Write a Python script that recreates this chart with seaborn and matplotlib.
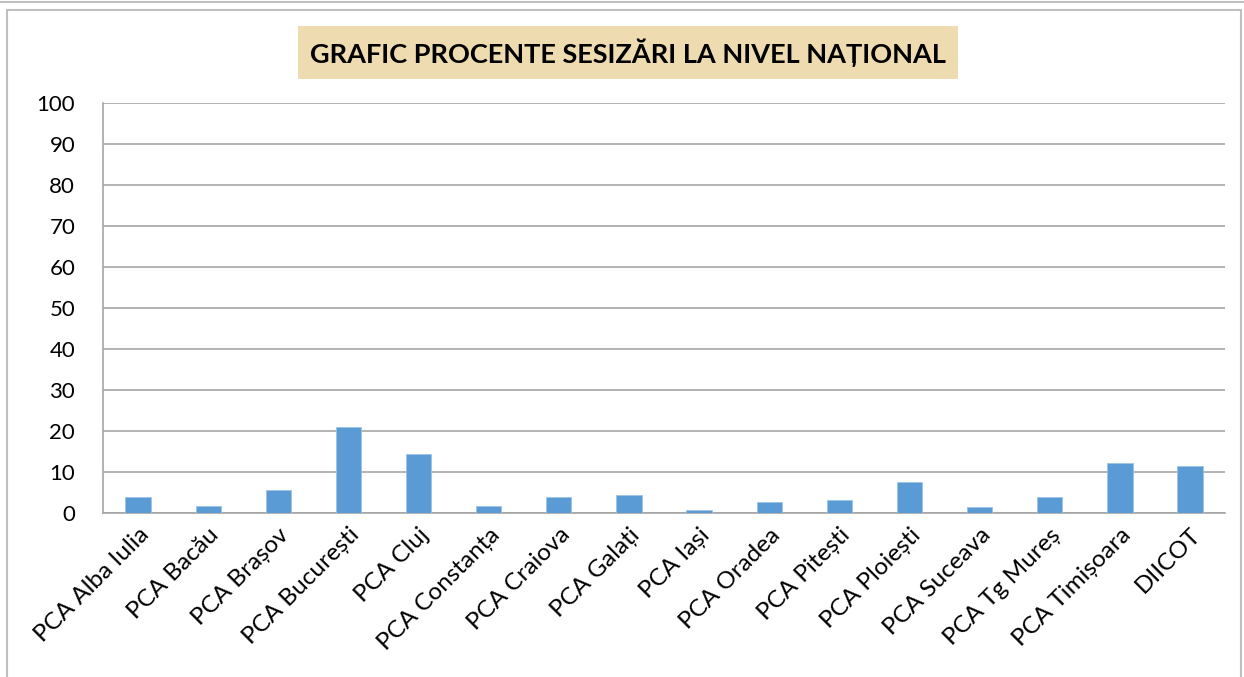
import matplotlib
matplotlib.use("Agg")
import matplotlib.pyplot as plt
import seaborn as sns
import pandas as pd
from matplotlib.patches import Rectangle
from matplotlib.ticker import FixedLocator

# data
regions = ['PCA Alba Iulia', 'PCA Bacău', 'PCA Brașov', 'PCA București', 'PCA Cluj',
           'PCA Constanța', 'PCA Craiova', 'PCA Galați', 'PCA Iași', 'PCA Oradea',
           'PCA Pitești', 'PCA Ploiești', 'PCA Suceava', 'PCA Tg Mureș',
           'PCA Timișoara', 'DIICOT']
percent = [4.0, 1.6, 5.7, 20.9, 14.3, 1.6, 3.8, 4.5, 0.8, 2.6, 3.1, 7.6, 1.5, 3.8, 12.3, 11.5]
y_ticks = list(range(0, 101, 10))

title = 'GRAFIC PROCENTE SESIZĂRI LA NIVEL NAȚIONAL'

sns.set_style("white")
plt.rcParams['font.family'] = ['Lato', 'DejaVu Sans']
plt.rcParams['text.color'] = 'black'
plt.rcParams['xtick.labelcolor'] = 'black'
plt.rcParams['ytick.labelcolor'] = 'black'

df = pd.DataFrame({'region': regions, 'percent': percent})

fig = plt.figure(figsize=(12.44, 6.77), dpi=100)
ax = fig.add_axes([0.0828, 0.2422, 0.902, 0.6057])

sns.barplot(data=df, x='region', y='percent', color='#5b9bd5', width=0.36,
            saturation=1, edgecolor='#9cc3e6', linewidth=0.6, ax=ax, zorder=3)

grid_c = '#a6a6a6'
ax.set_ylim(0, 100)
ax.set_xlim(-0.5, len(regions) - 0.5)
ax.set_yticks(y_ticks)
ax.yaxis.grid(True, color=grid_c, linewidth=1.2, zorder=0)
ax.set_xlabel('')
ax.set_ylabel('')

for s in ['top', 'right']:
    ax.spines[s].set_visible(False)
for s in ['left', 'bottom']:
    ax.spines[s].set_color(grid_c)
    ax.spines[s].set_linewidth(1.2)

# category boundary ticks like Excel
ax.xaxis.set_minor_locator(FixedLocator([i - 0.5 for i in range(len(regions) + 1)]))
ax.tick_params(axis='x', which='major', length=0, pad=8, labelsize=17.5, labelcolor='black')
ax.tick_params(axis='x', which='minor', length=8, width=1.2, color=grid_c, direction='out')
ax.tick_params(axis='y', length=6, width=1.2, color=grid_c, labelsize=16, pad=14, labelcolor='black')
for lbl in ax.get_xticklabels():
    lbl.set_rotation(45)
    lbl.set_ha('right')
    lbl.set_rotation_mode('anchor')

fig.text(0.505, 0.922, title, ha='center', va='center', fontsize=19.5, fontweight='bold',
         color='black',
         bbox=dict(boxstyle='square,pad=0.45', facecolor='#eedbb0', edgecolor='none'))

# outer chart frame
fig.patches.append(Rectangle((7 / 1244, -0.01), 1234 / 1244, 1 - 10 / 677 + 0.01,
                             transform=fig.transFigure, fill=False,
                             edgecolor='#bfbfbf', linewidth=1.5))
fig.add_artist(plt.Line2D([0, 1], [1 - 2 / 677] * 2, transform=fig.transFigure,
                          color='#bfbfbf', linewidth=1.5))

fig.savefig('out.png', dpi=100)
